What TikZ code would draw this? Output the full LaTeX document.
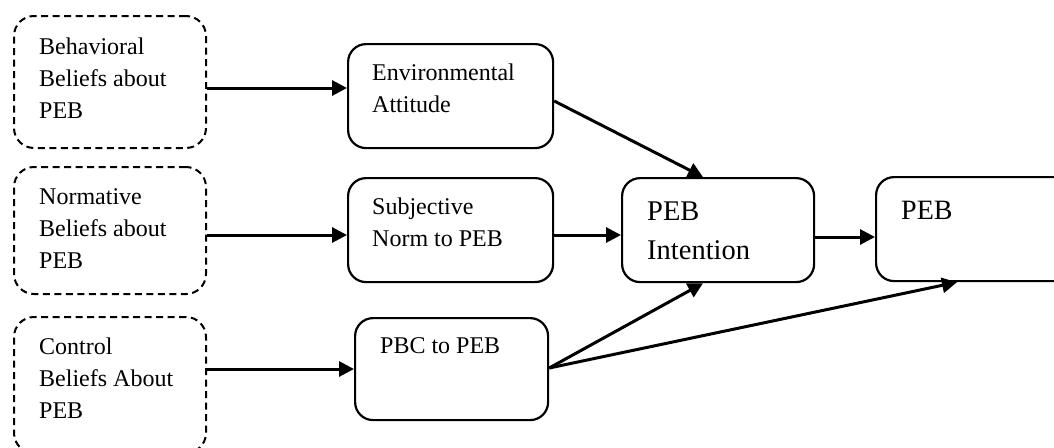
\documentclass[tikz,border=0pt]{standalone}
\usepackage{fontspec}
\setmainfont{Liberation Serif}
\usetikzlibrary{arrows.meta}
\tikzset{
  dbox/.style={draw, line width=2pt, dash pattern=on 7pt off 4.5pt, rounded corners=20pt, anchor=north west, inner sep=0pt},
  sbox/.style={draw, line width=2.2pt, rounded corners=18pt, anchor=north west, inner sep=0pt},
  arr/.style={line width=3pt, -{Triangle[length=15pt,width=15pt]}},
  txt/.style={anchor=base west, inner sep=0pt, font=\fontsize{24}{32}\selectfont},
  bigtxt/.style={anchor=base west, inner sep=0pt, font=\fontsize{28.5}{39}\selectfont},
}
\newcommand{\lines}[1]{\begin{tabular}[t]{@{}l@{}}#1\end{tabular}}
\begin{document}
\begin{tikzpicture}[x=1pt, y=-1pt]
  \path[use as bounding box] (0,0) rectangle (1054,447);
  \clip (0,0) rectangle (1054,447);

  % belief boxes (dashed)
  \node[dbox, minimum width=192pt, minimum height=132pt] (b1) at (13,15) {};
  \node[dbox, minimum width=192pt, minimum height=127pt] (b2) at (13,166) {};
  \node[dbox, minimum width=192pt, minimum height=136pt] (b3) at (13,316) {};

  % construct boxes
  \node[sbox, minimum width=205pt, minimum height=104pt] (env)  at (347,43)  {};
  \node[sbox, minimum width=205pt, minimum height=104pt] (subj) at (347,177) {};
  \node[sbox, minimum width=193pt, minimum height=102pt] (pbc)  at (354,317) {};
  \node[sbox, minimum width=192pt, minimum height=104pt] (pint) at (621,177) {};
  \node[sbox, minimum width=200pt, minimum height=104pt] (peb)  at (875,176) {};

  % labels
  \node[txt] (t1) at (39,54)  {\lines{Behavioral\\Beliefs about\\PEB}};
  \node[txt] (t2) at (39,204) {\lines{Normative\\Beliefs about\\PEB}};
  \node[txt] (t3) at (39,354) {\lines{Control\\Beliefs About\\PEB}};
  \node[txt] (t4) at (372,80)  {\lines{Environmental\\Attitude}};
  \node[txt] (t5) at (372,214) {\lines{Subjective\\Norm to PEB}};
  \node[txt] (t6) at (380,353) {PBC to PEB};
  \node[bigtxt] (t7) at (647,220) {\lines{PEB\\Intention}};
  \node[bigtxt, font=\fontsize{28}{39}\selectfont] (t8) at (901,219) {PEB};

  % connectors
  \draw[arr] (b1.east |- 0,88)  -- (env.west |- 0,88);
  \draw[arr] (b2.east |- 0,235) -- (subj.west |- 0,235);
  \draw[arr] (b3.east |- 0,369) -- (pbc.west |- 0,369);
  \draw[arr] (subj.east |- 0,235) -- (pint.west |- 0,235);
  \draw[arr] (pint.east |- 0,237) -- (peb.west |- 0,237);
  \draw[arr] (env.east |- 0,101) -- (pint.north -| 703,0);
  \draw[arr] (pbc.east |- 0,368) -- (pint.south -| 703,0);
  \draw[arr] (pbc.east |- 0,368) -- (peb.south -| 957,0);
\end{tikzpicture}
\end{document}
